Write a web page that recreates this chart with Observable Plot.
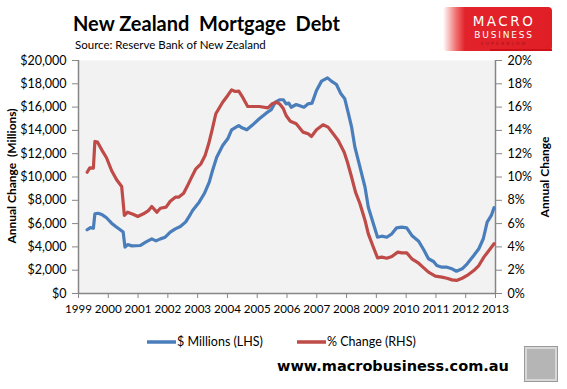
<!DOCTYPE html>
<html>
<head>
<meta charset="utf-8">
<script src="https://cdn.jsdelivr.net/npm/d3@7"></script>
<script src="https://cdn.jsdelivr.net/npm/@observablehq/plot@0.6"></script>
<style>
  html, body { margin: 0; padding: 0; background: #fff; }
  #chart { width: 567px; height: 389px; }
</style>
</head>
<body>
<div id="chart"></div>
<script>
// ---- Data ----
const yearTicks = [1999, 2000, 2001, 2002, 2003, 2004, 2005, 2006, 2007, 2008, 2009, 2010, 2011, 2012, 2013];
const leftTicks = [0, 2000, 4000, 6000, 8000, 10000, 12000, 14000, 16000, 18000, 20000];
const rightTicks = [0, 2, 4, 6, 8, 10, 12, 14, 16, 18, 20];

const millionsDates = [1999.29, 1999.40, 1999.50, 1999.55, 1999.66, 1999.80, 1999.94, 2000.11, 2000.25, 2000.40, 2000.50, 2000.56, 2000.65, 2000.79, 2001.07, 2001.24, 2001.46, 2001.60, 2001.75, 2001.91, 2002.08, 2002.25, 2002.42, 2002.60, 2002.70, 2002.83, 2003.05, 2003.22, 2003.39, 2003.50, 2003.64, 2003.84, 2004.01, 2004.14, 2004.29, 2004.38, 2004.49, 2004.65, 2004.85, 2005.07, 2005.30, 2005.47, 2005.61, 2005.75, 2005.88, 2005.97, 2006.06, 2006.14, 2006.31, 2006.57, 2006.71, 2006.84, 2006.99, 2007.16, 2007.36, 2007.49, 2007.66, 2007.81, 2007.94, 2008.05, 2008.17, 2008.28, 2008.45, 2008.62, 2008.73, 2008.90, 2009.04, 2009.18, 2009.35, 2009.52, 2009.68, 2009.85, 2010.02, 2010.19, 2010.42, 2010.59, 2010.75, 2010.92, 2011.03, 2011.20, 2011.37, 2011.54, 2011.69, 2011.88, 2012.05, 2012.27, 2012.44, 2012.59, 2012.72, 2012.86, 2012.95];
const millionsValues = [5470, 5650, 5600, 6840, 6890, 6750, 6500, 6040, 5750, 5470, 5270, 3980, 4200, 4090, 4120, 4380, 4690, 4520, 4690, 4830, 5270, 5550, 5750, 6150, 6550, 7120, 7840, 8560, 9560, 10560, 11700, 12700, 13280, 14050, 14280, 14420, 14220, 14050, 14480, 15000, 15480, 15770, 16420, 16630, 16630, 16280, 16340, 15990, 16220, 15990, 16280, 16340, 17420, 18230, 18510, 18230, 17940, 17140, 16710, 15560, 14280, 12560, 10840, 9120, 7410, 5980, 4830, 4920, 4830, 5120, 5640, 5690, 5640, 4980, 4490, 3750, 2980, 2750, 2400, 2260, 2260, 2120, 1910, 2120, 2550, 3260, 3840, 4700, 6120, 6700, 7360];

const pctDates = [1999.29, 1999.38, 1999.50, 1999.55, 1999.64, 1999.78, 1999.94, 2000.11, 2000.28, 2000.45, 2000.54, 2000.65, 2000.85, 2000.99, 2001.18, 2001.35, 2001.46, 2001.63, 2001.75, 2001.94, 2002.08, 2002.25, 2002.36, 2002.53, 2002.65, 2002.77, 2002.94, 2003.11, 2003.25, 2003.37, 2003.48, 2003.61, 2003.84, 2004.01, 2004.14, 2004.26, 2004.38, 2004.51, 2004.68, 2004.85, 2005.07, 2005.36, 2005.50, 2005.64, 2005.75, 2005.88, 2005.97, 2006.11, 2006.31, 2006.54, 2006.71, 2006.82, 2006.99, 2007.21, 2007.38, 2007.55, 2007.72, 2007.92, 2008.03, 2008.17, 2008.30, 2008.45, 2008.62, 2008.73, 2008.90, 2009.04, 2009.18, 2009.35, 2009.52, 2009.72, 2009.85, 2010.02, 2010.19, 2010.42, 2010.59, 2010.75, 2010.98, 2011.20, 2011.37, 2011.54, 2011.69, 2011.88, 2012.05, 2012.27, 2012.44, 2012.61, 2012.78, 2012.95];
const pctValues = [10.41, 10.79, 10.76, 13.05, 12.99, 12.33, 11.65, 10.56, 9.76, 9.18, 6.70, 6.98, 6.78, 6.61, 6.84, 7.12, 7.47, 6.98, 7.32, 7.41, 7.92, 8.27, 8.27, 8.61, 9.20, 9.84, 10.70, 11.13, 11.85, 12.85, 13.99, 15.43, 16.42, 17.00, 17.48, 17.34, 17.37, 16.85, 16.05, 16.05, 16.05, 15.94, 16.28, 16.42, 16.28, 15.85, 15.28, 14.79, 14.57, 13.85, 13.71, 13.48, 14.05, 14.48, 14.28, 13.71, 13.13, 12.13, 11.27, 9.98, 8.70, 7.70, 6.27, 5.12, 3.97, 3.06, 3.12, 3.03, 3.18, 3.55, 3.49, 3.49, 2.98, 2.60, 2.20, 1.83, 1.49, 1.40, 1.31, 1.17, 1.12, 1.31, 1.55, 1.97, 2.40, 3.12, 3.69, 4.27];

const seriesNames = ["$ Millions (LHS)", "% Change (RHS)"];
const seriesColors = ["#4a7ebb", "#be4b48"];

// ---- Build tables ----
const millions = millionsDates.map((d, i) => ({date: d, value: millionsValues[i]}));
const pct = pctDates.map((d, i) => ({date: d, value: pctValues[i]}));
// right axis: 20% maps onto the same range as $20,000
const ratio = 20000 / 20;

const axisGray = "#868686";
const font = "Lato, 'Open Sans', sans-serif";

const svg = Plot.plot({
  width: 567,
  height: 389,
  marginLeft: 78,
  marginRight: 72,
  marginTop: 60,
  marginBottom: 96,
  style: {fontFamily: font, fontSize: "12.5px", color: "#000", background: "#fff", overflow: "visible"},
  x: {domain: [1999, 2013]},
  y: {domain: [0, 20000]},
  marks: [
    Plot.frame({fill: "#f2f2f2", stroke: null}),
    Plot.axisY({anchor: "left", ticks: leftTicks, tickFormat: d3.format("$,"), tickSize: 6, tickPadding: 6, stroke: axisGray, fill: "#000", label: null}),
    Plot.axisY({anchor: "right", ticks: rightTicks.map(d => d * ratio), tickFormat: d => (d / ratio) + "%", tickSize: 6, tickPadding: 6, stroke: axisGray, fill: "#000", label: null}),
    Plot.axisX({ticks: yearTicks, tickFormat: d => String(d), tickSize: 5, tickPadding: 6, fontSize: 11.6, stroke: axisGray, fill: "#000", label: null}),
    Plot.ruleX([yearTicks[0]], {stroke: axisGray, strokeWidth: 1.5}),
    Plot.ruleX([yearTicks[yearTicks.length - 1]], {stroke: axisGray, strokeWidth: 1.5}),
    Plot.ruleY([0], {stroke: axisGray, strokeWidth: 1.5}),
    Plot.line(millions, {x: "date", y: "value", stroke: seriesColors[0], strokeWidth: 3.2, strokeLinejoin: "round"}),
    Plot.line(pct, {x: "date", y: d => d.value * ratio, stroke: seriesColors[1], strokeWidth: 3.2, strokeLinejoin: "round"})
  ]
});

document.getElementById("chart").appendChild(svg);

const s = d3.select(svg);

// Title and source
s.append("text").attr("x", 73).attr("y", 31).attr("text-anchor", "start")
  .attr("font-family", font).attr("font-weight", "bold").attr("font-size", 20)
  .attr("fill", "#000").attr("style", "white-space:pre").text("New Zealand  Mortgage  Debt");
s.append("text").attr("x", 75).attr("y", 49).attr("text-anchor", "start")
  .attr("font-family", font).attr("font-size", 11.5).attr("fill", "#000")
  .text("Source: Reserve Bank of New Zealand");

// Axis titles
s.append("text").attr("transform", "translate(16,176) rotate(-90)")
  .attr("text-anchor", "middle").attr("font-family", font).attr("font-weight", "bold").attr("font-size", 12)
  .text("Annual Change  (Millions)");
s.append("text").attr("transform", "translate(549,177) rotate(-90)")
  .attr("text-anchor", "middle").attr("font-family", font).attr("font-weight", "bold").attr("font-size", 12)
  .text("Annual Change");

// Logo box
const defs = s.append("defs");
const grad = defs.append("linearGradient").attr("id", "logoGrad").attr("x1", "0").attr("x2", "1");
grad.append("stop").attr("offset", "0").attr("stop-color", "#ffffff");
grad.append("stop").attr("offset", "0.12").attr("stop-color", "#f07070");
grad.append("stop").attr("offset", "0.2").attr("stop-color", "#e3232b");
grad.append("stop").attr("offset", "1").attr("stop-color", "#e01e26");
s.append("rect").attr("x", 443).attr("y", 7).attr("width", 109).attr("height", 44).attr("rx", 4).attr("fill", "url(#logoGrad)");
s.append("rect").attr("x", 490).attr("y", 49).attr("width", 62).attr("height", 2).attr("fill", "#d01018");
s.append("text").attr("x", 504).attr("y", 26).attr("text-anchor", "middle")
  .attr("font-family", "'DejaVu Sans', sans-serif").attr("font-size", 13.5).attr("letter-spacing", 2.5)
  .attr("fill", "#fff").text("MACRO");
s.append("text").attr("x", 504).attr("y", 37.5).attr("text-anchor", "middle")
  .attr("font-family", "'DejaVu Sans', sans-serif").attr("font-size", 9).attr("letter-spacing", 1.8)
  .attr("fill", "#fff").text("BUSINESS");
s.append("text").attr("x", 504).attr("y", 44.5).attr("text-anchor", "middle")
  .attr("font-family", "'DejaVu Sans', sans-serif").attr("font-size", 4.5).attr("letter-spacing", 2.2)
  .attr("fill", "#a0141a").text("SUPERBLOG");

// Legend
const legendItems = [{x: 147, name: seriesNames[0], color: seriesColors[0]}, {x: 297, name: seriesNames[1], color: seriesColors[1]}];
legendItems.forEach(it => {
  s.append("line").attr("x1", it.x).attr("x2", it.x + 29).attr("y1", 342).attr("y2", 342)
    .attr("stroke", it.color).attr("stroke-width", 3.5);
  s.append("text").attr("x", it.x + 30).attr("y", 346).attr("text-anchor", "start")
    .attr("font-family", font).attr("font-size", 12.5)
    .attr("fill", "#000").text(it.name);
});

// Footer
s.append("text").attr("x", 277).attr("y", 371).attr("text-anchor", "start")
  .attr("font-family", "'DejaVu Sans', Verdana, sans-serif").attr("font-weight", "bold").attr("font-size", 14.5)
  .attr("fill", "#000").text("www.macrobusiness.com.au");
s.append("rect").attr("x", 524.5).attr("y", 346.5).attr("width", 33).attr("height", 35)
  .attr("fill", "#d8d8d8").attr("stroke", "#9a9a9a").attr("stroke-width", 1);
s.append("rect").attr("x", 527).attr("y", 349).attr("width", 28).attr("height", 30)
  .attr("fill", "#b5b5b5");
</script>
</body>
</html>
